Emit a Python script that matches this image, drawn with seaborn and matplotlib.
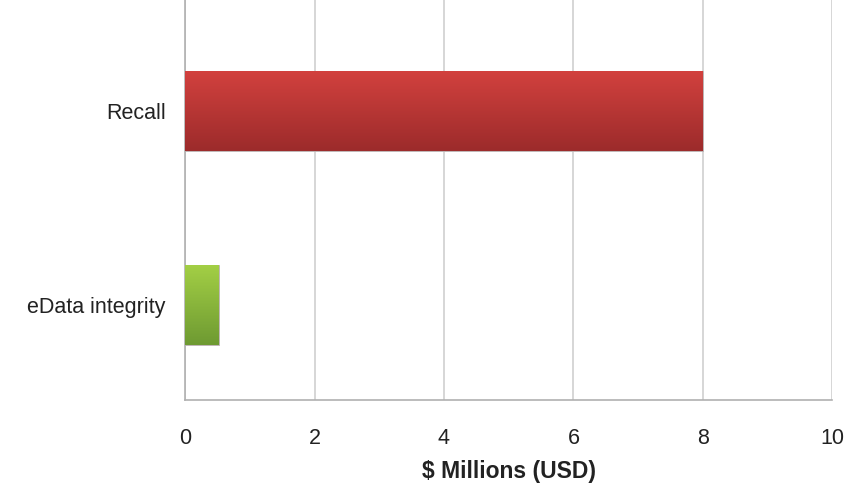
import numpy as np
import pandas as pd
import matplotlib
matplotlib.use("Agg")
import matplotlib.pyplot as plt
import seaborn as sns
from matplotlib.colors import LinearSegmentedColormap

# chart data
categories = ["Recall", "eData integrity"]
values = [8.0, 0.52]
top_colors = ["#d2413e", "#a3cf45"]
bottom_colors = ["#9c2b2b", "#6e9a32"]

df = pd.DataFrame({"category": categories, "value": values})

sns.set_theme(style="white")
plt.rcParams["font.family"] = ["Liberation Sans", "DejaVu Sans"]

fig = plt.figure(figsize=(8.45, 4.87), dpi=100)
ax = fig.add_axes([0.219, 0.179, 0.766, 0.821])

sns.barplot(data=df, x="value", y="category", orient="h", width=0.41,
            color=top_colors[0], ax=ax, zorder=2)

# vertical gradient fill per bar
for patch, c_top, c_bot in zip(ax.patches, top_colors, bottom_colors):
    x0, y0 = patch.get_x(), patch.get_y()
    w, h = patch.get_width(), patch.get_height()
    cmap = LinearSegmentedColormap.from_list("g", [c_top, c_bot])
    grad = np.linspace(0, 1, 256).reshape(-1, 1)
    im = ax.imshow(grad, cmap=cmap, aspect="auto",
                   extent=[x0, x0 + w, y0 + h, y0], zorder=3)
    im.set_clip_path(patch)
    patch.set_edgecolor("#bbbbbb")
    patch.set_linewidth(0.6)

ax.set_xlim(0, 10)
ax.set_ylim(1.49, -0.572)
ax.set_xticks(range(0, 11, 2))
ax.xaxis.grid(True, color="#d0d0d0", linewidth=1.2, zorder=0)
ax.set_axisbelow(True)

for side in ["top", "right"]:
    ax.spines[side].set_visible(False)
ax.spines["left"].set_color("#b0b0b0")
ax.spines["bottom"].set_color("#b0b0b0")
ax.spines["left"].set_linewidth(1.2)
ax.spines["bottom"].set_linewidth(1.2)

ax.tick_params(axis="both", length=0, labelsize=15.5, colors="#222222")
ax.tick_params(axis="x", pad=20)
ax.tick_params(axis="y", pad=14)
ax.set_ylabel("")
ax.set_xlabel("$ Millions (USD)", fontsize=16.5, fontweight="bold",
              color="#222222", labelpad=8,
              family=["Liberation Sans Narrow", "Liberation Sans", "DejaVu Sans"])

fig.savefig("out.png", dpi=100)
